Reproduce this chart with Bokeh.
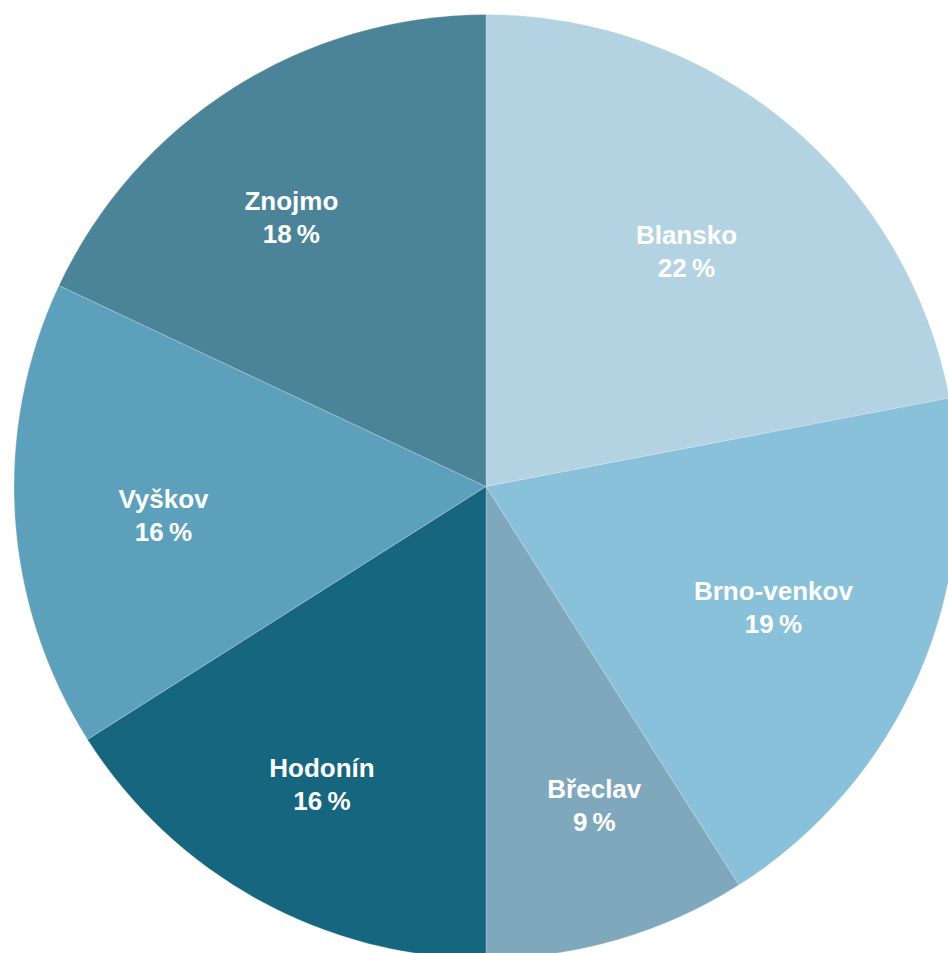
import math
from bokeh.plotting import figure
from bokeh.models import ColumnDataSource, Range1d
from bokeh.core.properties import value
from bokeh.embed import file_html
from bokeh.resources import INLINE

# ---- data ----
districts = ["Blansko", "Brno-venkov", "Břeclav", "Hodonín", "Vyškov", "Znojmo"]
shares = [22, 19, 9, 16, 16, 18]
colors = ["#b3d3e3", "#89c0da", "#80a8bc", "#16667f", "#5da0bb", "#4b8499"]

# ---- layout ----
W, H = 948, 953
cx, cy, R = 485.5, 467.0, 472.0
label_frac = [0.656, 0.66, 0.712, 0.719, 0.686, 0.705]
label_dang = [0.75, -0.7, -2.6, 0.1, -1.4, -3.4]  # degrees, clockwise nudge

total = float(sum(shares))
starts, ends, lx, ly = [], [], [], []
cum = 0.0
for i, s in enumerate(shares):
    f0 = cum / total
    f1 = (cum + s) / total
    starts.append(math.pi / 2 - f0 * 2 * math.pi)
    ends.append(math.pi / 2 - f1 * 2 * math.pi)
    mid_deg = (f0 + f1) / 2 * 360 + label_dang[i]
    a = math.radians(mid_deg)
    r = label_frac[i] * R
    lx.append(cx + r * math.sin(a))
    ly.append(cy + r * math.cos(a))
    cum += s

src = ColumnDataSource(dict(
    start=starts, end=ends, color=colors,
    name=districts, pct=[f"{s}\u2009%" for s in shares],
    x=lx, y=ly,
))

p = figure(width=W, height=H, output_backend="svg", toolbar_location=None,
           x_range=Range1d(0, W), y_range=Range1d(0, H), min_border=0,
           background_fill_color="white", border_fill_color="white")
p.axis.visible = False
p.grid.visible = False
p.outline_line_color = None

p.wedge(x=cx, y=cy, radius=R, start_angle="start", end_angle="end",
        direction="clock", fill_color="color", line_color="white",
        line_width=0.6, line_alpha=0.35, source=src)

common = dict(text_color="white", text_font=value("Liberation Sans"),
              text_font_style="bold", text_font_size="26px",
              text_align="center", text_baseline="middle", source=src)
p.text(x="x", y="y", text="name", y_offset=-16, **common)
p.text(x="x", y="y", text="pct", y_offset=17, **common)

open("out.html", "w").write(file_html(p, INLINE))
